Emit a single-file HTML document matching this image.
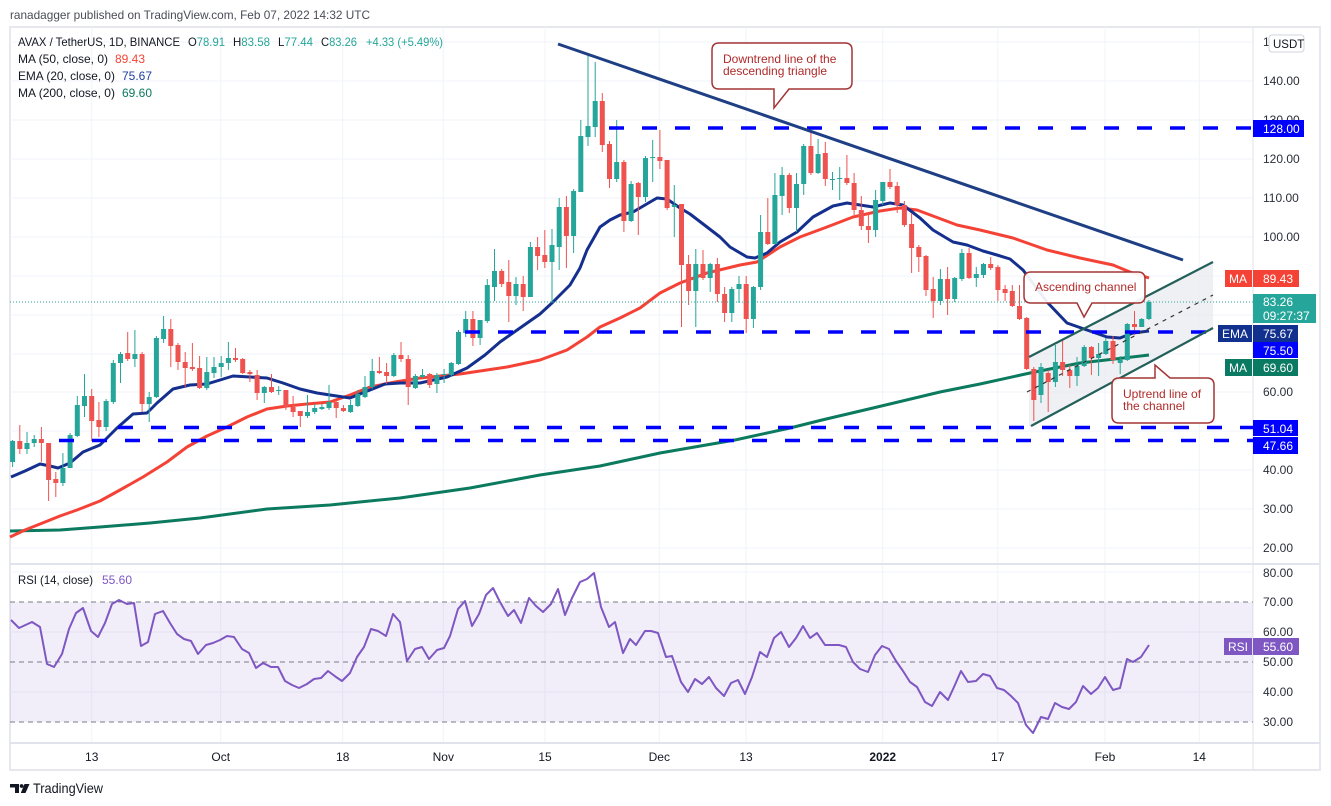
<!DOCTYPE html>
<html><head><meta charset="utf-8"><style>
html,body{margin:0;padding:0;background:#fff;}
svg{display:block;font-family:"Liberation Sans",Arial,sans-serif;}
</style></head><body>
<svg width="1331" height="806" viewBox="0 0 1331 806" xmlns="http://www.w3.org/2000/svg">
<rect width="1331" height="806" fill="#fff"/>
<!-- header -->
<text x="10" y="19" font-size="12" fill="#4a4d57" textLength="360" lengthAdjust="spacingAndGlyphs">ranadagger published on TradingView.com, Feb 07, 2022 14:32 UTC</text>
<!-- frame -->
<rect x="10" y="27" width="1310" height="743" fill="none" stroke="#e6e8ee" stroke-width="2"/>
<!-- grid -->
<g stroke="#f0f3fa" stroke-width="1">
<path d="M10 42H1253M10 81H1253M10 120H1253M10 159H1253M10 198H1253M10 237H1253M10 276H1253M10 315H1253M10 354H1253M10 392H1253M10 431H1253M10 470H1253M10 509H1253M10 548H1253"/>
<path d="M91.7 27V743M220.7 27V743M342.7 27V743M443.3 27V743M545 27V743M659.3 27V743M746 27V743M882.7 27V743M997.7 27V743M1105 27V743M1199.3 27V743"/>
<path d="M10 572H1253M10 632H1253M10 692H1253"/>
</g>
<!-- separators -->
<path d="M10 564H1320M10 743H1320" stroke="#e0e3eb" stroke-width="2"/>
<path d="M1253 27V770" stroke="#e0e3eb" stroke-width="1"/>

<!-- channel fill -->
<polygon points="1029,357 1213,262 1213,328 1029,427" fill="#e9ebf0" opacity="0.75"/>

<!-- MA200 -->
<polyline fill="none" stroke="#0b7a5f" stroke-width="3" stroke-linejoin="round" points="10,531 60,530 100,527 150,523 200,518 267,509 330,505 400,498 470,488 540,475 600,466 660,453 735,440 790,428 822,420 873,408 940,392 980,384 1030,373 1080,363 1149,355"/>
<!-- MA50 -->
<polyline fill="none" stroke="#f44336" stroke-width="3" stroke-linejoin="round" points="10,537 25,530 40,524 60,516 77,510 100,501 120,490 143,477 167,462 187,447 207,436 227,427 247,417 267,409 287,406 307,404 330,402 350,395 370,387 395,382 420,378 460,374 507,367 540,360 567,350 587,337 600,327 620,318 640,308 660,293 680,283 707,273 740,265 757,262 780,247 800,237 827,227 853,217 880,211 900,208 917,210 933,216 957,225 980,230 1013,238 1047,250 1080,258 1113,265 1130,272 1149,278"/>
<!-- EMA20 -->
<polyline fill="none" stroke="#142f8e" stroke-width="3" stroke-linejoin="round" points="11,477 25,471 40,464 50,466 58,468 70,463 83,452 100,445 117,428 133,414 147,413 157,403 173,389 190,385 207,384 220,380 233,376 250,377 267,378 283,383 300,389 317,393 330,395 350,398 370,390 385,384 400,383 420,383 447,377 467,368 485,355 500,342 520,328 540,314 553,302 570,285 580,268 587,250 600,227 610,220 620,215 633,212 645,205 657,198 667,199 680,208 690,214 707,227 720,237 730,247 747,257 755,258 767,253 780,242 797,232 813,217 833,206 847,203 860,205 873,207 890,203 903,205 920,218 933,230 953,242 967,245 983,251 997,255 1010,259 1023,270 1047,302 1067,323 1087,330 1107,337 1120,338 1133,333 1149,331"/>

<!-- candles green -->
<path fill="none" stroke="#26a69a" stroke-width="1" d="M12.6 440V467 M27 432V454 M34.2 435V447 M62.9 453V486 M70.1 433V468 M77.3 396V437 M84.5 374V417 M106.1 399V431 M113.3 360V404 M120.5 352V383 M134.9 330V367 M149.2 392V422 M156.4 336V398 M163.6 316V343 M206.8 357V390 M214 357V378 M221.2 356V377 M228.4 342V370 M264.3 386V403 M278.7 386V395 M307.5 395V418 M314.7 404V414 M321.9 404V410 M329 385V410 M350.6 400V413 M357.8 390V407 M365 376V398 M372.2 359V389 M393.8 353V377 M415.4 374V389 M422.5 369V378 M436.9 373V393 M444.1 369V383 M451.3 362V377 M458.5 330V365 M465.7 311V337 M480.1 320V345 M487.3 279V323 M494.5 249V301 M516 277V305 M530.4 242V297 M552 229V303 M559.2 198V270 M573.6 189V253 M580.8 120V192 M588 54V146 M595.2 62V137 M616.7 120V182 M631.1 181V222 M645.5 156V202 M652.7 140V182 M674.3 185V237 M695.8 249V327 M710.2 263V292 M731.8 287V322 M739 276V303 M753.4 286V328 M760.6 215V290 M774.9 173V245 M782.1 167V215 M796.5 173V232 M803.7 144V195 M818.1 139V174 M832.5 172V190 M839.7 167V200 M875.6 190V237 M882.8 182V205 M940.4 269V305 M954.7 277V302 M961.9 249V281 M976.3 267V287 M983.5 263V278 M1041 363V403 M1055.4 345V387 M1077 357V386 M1084.2 345V367 M1098.6 343V376 M1105.8 338V355 M1120.2 356V374 M1127.3 323V361 M1141.7 318V327 M1148.9 300V320"/>
<path fill="none" stroke="#26a69a" stroke-width="5" d="M12.6 441v21 M27 443v6 M34.2 439v4 M62.9 468v15 M70.1 435v33 M77.3 405v31 M84.5 396v10 M106.1 401v26 M113.3 363v39 M120.5 354v9 M134.9 354v5 M149.2 397v7 M156.4 338v59 M163.6 329v10 M206.8 372v16 M214 367v6 M221.2 363v4 M228.4 358v5 M264.3 387v6 M278.7 390v1 M307.5 412v4 M314.7 408v4 M321.9 407v2 M329 402v6 M350.6 405v7 M357.8 394v12 M365 387v10 M372.2 371v16 M393.8 355v21 M415.4 376v12 M422.5 375v2 M436.9 375v9 M444.1 374v1 M451.3 363v12 M458.5 332v32 M465.7 319v14 M480.1 320v18 M487.3 285v36 M494.5 271v16 M516 284v12 M530.4 247v50 M552 245v17 M559.2 207v40 M573.6 191v45 M580.8 136v56 M588 126v11 M595.2 101v26 M616.7 162v17 M631.1 184v37 M645.5 158v39 M652.7 157v1 M674.3 205v2 M695.8 264v27 M710.2 264v14 M731.8 289v24 M739 284v5 M753.4 287v32 M760.6 232v55 M774.9 195v49 M782.1 175v21 M796.5 184v24 M803.7 146v38 M818.1 154v19 M832.5 179v1 M839.7 178v1 M875.6 200v30 M882.8 182v19 M940.4 279v22 M954.7 278v21 M961.9 253v26 M976.3 274v4 M983.5 264v11 M1041 367v28 M1055.4 362v20 M1077 366v10 M1084.2 347v19 M1098.6 354v4 M1105.8 341v13 M1120.2 360v3 M1127.3 324v36 M1141.7 319v8 M1148.9 302v17"/>
<!-- candles red -->
<path fill="none" stroke="#ef5350" stroke-width="1" d="M19.8 425V454 M41.4 427V462 M48.6 443V501 M55.8 472V497 M91.7 389V441 M98.9 402V437 M127.7 332V361 M142.1 352V412 M170.8 319V367 M178 343V370 M185.2 352V387 M192.4 343V371 M199.6 356V389 M235.5 348V362 M242.7 358V374 M249.9 370V382 M257.1 370V400 M271.5 374V393 M285.9 390V410 M293.1 396V417 M300.3 411V427 M336.2 400V418 M343.4 405V412 M379.4 357V374 M386.6 363V384 M401 342V362 M408.2 355V405 M429.7 373V388 M472.9 311V346 M501.7 269V287 M508.8 260V322 M523.2 276V311 M537.6 237V270 M544.8 230V268 M566.4 196V268 M602.3 93V152 M609.5 141V188 M623.9 160V232 M638.3 182V235 M659.9 130V169 M667.1 160V210 M681.5 204V327 M688.6 255V305 M703 250V280 M717.4 258V302 M724.6 287V322 M746.2 276V333 M767.8 198V245 M789.3 173V213 M810.9 132V175 M825.3 142V186 M846.9 155V185 M854.1 173V215 M861.3 196V230 M868.4 213V243 M890 169V189 M897.2 182V213 M904.4 201V227 M911.6 213V273 M918.8 245V272 M926 255V296 M933.2 277V318 M947.6 267V315 M969.1 248V279 M990.7 257V270 M997.9 265V301 M1005.1 285V301 M1012.3 285V307 M1019.5 285V320 M1026.7 317V370 M1033.8 367V421 M1048.2 370V412 M1062.6 340V376 M1069.8 365V388 M1091.4 346V375 M1113 336V364 M1134.5 311V335"/>
<path fill="none" stroke="#ef5350" stroke-width="5" d="M19.8 441v8 M41.4 439v4 M48.6 443v37 M55.8 479v4 M91.7 396v25 M98.9 420v7 M127.7 353v6 M142.1 354v50 M170.8 329v17 M178 345v17 M185.2 362v6 M192.4 367v2 M199.6 368v20 M235.5 358v2 M242.7 359v14 M249.9 372v2 M257.1 375v18 M271.5 387v5 M285.9 390v17 M293.1 407v5 M300.3 411v5 M336.2 402v6 M343.4 408v3 M379.4 371v2 M386.6 372v4 M401 355v4 M408.2 359v28 M429.7 374v11 M472.9 319v19 M501.7 271v13 M508.8 282v14 M523.2 284v13 M537.6 247v9 M544.8 255v7 M566.4 207v29 M602.3 101v44 M609.5 144v35 M623.9 162v59 M638.3 183v14 M659.9 157v4 M667.1 160v48 M681.5 204v61 M688.6 264v27 M703 264v14 M717.4 264v30 M724.6 294v19 M746.2 284v35 M767.8 232v12 M789.3 175v33 M810.9 146v27 M825.3 153v26 M846.9 178v5 M854.1 183v27 M861.3 210v16 M868.4 226v4 M890 182v5 M897.2 186v19 M904.4 205v20 M911.6 224v24 M918.8 247v10 M926 256v34 M933.2 289v12 M947.6 279v20 M969.1 253v25 M990.7 264v4 M997.9 267v23 M1005.1 289v4 M1012.3 291v15 M1019.5 306v13 M1026.7 318v51 M1033.8 369v31 M1048.2 373v9 M1062.6 362v8 M1069.8 370v6 M1091.4 347v11 M1113 341v19 M1134.5 324v3"/>

<!-- last price dotted line -->
<path d="M10 302H1253" stroke="#26a69a" stroke-width="1" stroke-dasharray="1 2"/>

<!-- horizontal dashed levels -->
<g stroke="#0000ff" stroke-width="3.5" stroke-dasharray="15 18" fill="none">
<path d="M609 128H1253"/>
<path d="M465 332H1253"/>
<path d="M118 427.5H1253"/>
<path d="M59 440.5H1253"/>
</g>

<!-- channel lines -->
<g stroke="#24605a" stroke-width="2.2" fill="none">
<path d="M1029 357L1213 262"/>
<path d="M1031 426L1213 328"/>
</g>
<path d="M1027 392L1213 295" stroke="#333" stroke-width="1.2" stroke-dasharray="4 5" fill="none"/>

<!-- downtrend line -->
<path d="M558 44L1183 260" stroke="#1f3f85" stroke-width="3" fill="none"/>

<!-- callouts -->
<g fill="#ffffff" fill-opacity="0.92" stroke="#a33535" stroke-width="1.5">
<path d="M719 43H845Q852 43 852 50V82Q852 89 845 89H789L774 108L774 89H719Q712 89 712 82V50Q712 43 719 43Z"/>
<path d="M1031 272H1138Q1145 272 1145 279V296Q1145 303 1138 303H1092L1084 317L1077 303H1031Q1024 303 1024 296V279Q1024 272 1031 272Z"/>
<path d="M1119 378H1155V365L1170 378H1207Q1214 378 1214 385V416Q1214 423 1207 423H1119Q1112 423 1112 416V385Q1112 378 1119 378Z"/>
</g>
<g fill="#b02a2a" font-size="12">
<text x="723" y="63">Downtrend line of the</text>
<text x="723" y="75">descending triangle</text>
<text x="1035" y="291">Ascending channel</text>
<text x="1123" y="398">Uptrend line of</text>
<text x="1123" y="410">the channel</text>
</g>

<!-- legend -->
<g font-size="12" fill="#131722">
<text x="18" y="46" textLength="162" lengthAdjust="spacingAndGlyphs">AVAX / TetherUS, 1D, BINANCE</text>
<text x="188" y="46" textLength="37" lengthAdjust="spacingAndGlyphs">O<tspan fill="#26a69a">78.91</tspan></text>
<text x="233" y="46" textLength="37" lengthAdjust="spacingAndGlyphs">H<tspan fill="#26a69a">83.58</tspan></text>
<text x="278" y="46" textLength="35" lengthAdjust="spacingAndGlyphs">L<tspan fill="#26a69a">77.44</tspan></text>
<text x="321" y="46" textLength="36" lengthAdjust="spacingAndGlyphs">C<tspan fill="#26a69a">83.26</tspan></text>
<text x="366" y="46" fill="#26a69a" textLength="77" lengthAdjust="spacingAndGlyphs">+4.33 (+5.49%)</text>
<text x="18" y="63" textLength="90" lengthAdjust="spacingAndGlyphs">MA (50, close, 0)</text>
<text x="115" y="63" fill="#f44336" textLength="30" lengthAdjust="spacingAndGlyphs">89.43</text>
<text x="18" y="80" textLength="97" lengthAdjust="spacingAndGlyphs">EMA (20, close, 0)</text>
<text x="122" y="80" fill="#1f3fa0" textLength="30" lengthAdjust="spacingAndGlyphs">75.67</text>
<text x="18" y="97" textLength="97" lengthAdjust="spacingAndGlyphs">MA (200, close, 0)</text>
<text x="122" y="97" fill="#0b7a5f" textLength="30" lengthAdjust="spacingAndGlyphs">69.60</text>
</g>

<!-- price axis labels -->
<g font-size="12" fill="#2a2e39">
<text x="1263" y="46">150.00</text>
<text x="1263" y="85">140.00</text>
<text x="1263" y="124">130.00</text>
<text x="1263" y="163">120.00</text>
<text x="1263" y="202">110.00</text>
<text x="1263" y="241">100.00</text>
<text x="1263" y="396">60.00</text>
<text x="1263" y="474">40.00</text>
<text x="1263" y="513">30.00</text>
<text x="1263" y="552">20.00</text>
</g>
<rect x="1269" y="35" width="35" height="17" rx="3" fill="#fff" stroke="#d1d4dc" stroke-width="1"/>
<text x="1273" y="48" font-size="11.5" fill="#131722">USDT</text>

<!-- axis boxes -->
<rect x="1253" y="120" width="51" height="17" fill="#0000ff"/>
<rect x="1253" y="270" width="46" height="17" fill="#f44336"/>
<rect x="1225" y="270" width="27" height="17" fill="#f44336"/>
<rect x="1253" y="294" width="63" height="29" fill="#26a69a"/>
<rect x="1253" y="325" width="45" height="17" fill="#12318f"/>
<rect x="1218" y="325" width="34" height="17" fill="#12318f"/>
<rect x="1253" y="342" width="45" height="16" fill="#0000ff"/>
<rect x="1253" y="359" width="45" height="17" fill="#0b7a63"/>
<rect x="1225" y="359" width="27" height="17" fill="#0b7a63"/>
<rect x="1253" y="420" width="45" height="16" fill="#0000ff"/>
<rect x="1253" y="437" width="45" height="17" fill="#0000ff"/>
<g font-size="12" fill="#fff">
<text x="1263" y="133">128.00</text>
<text x="1263" y="283">89.43</text>
<text x="1229" y="283">MA</text>
<text x="1263" y="306">83.26</text>
<text x="1263" y="320">09:27:37</text>
<text x="1263" y="338">75.67</text>
<text x="1222" y="338">EMA</text>
<text x="1263" y="355">75.50</text>
<text x="1263" y="372">69.60</text>
<text x="1229" y="372">MA</text>
<text x="1263" y="433">51.04</text>
<text x="1263" y="450">47.66</text>
</g>

<!-- RSI pane -->
<rect x="10" y="602" width="1243" height="120" fill="#7e57c2" fill-opacity="0.1"/>
<g stroke="#787b86" stroke-width="1" stroke-dasharray="5 4" fill="none">
<path d="M10 602H1253M10 662H1253M10 722H1253"/>
</g>
<polyline fill="none" stroke="#7e57c2" stroke-width="2" stroke-linejoin="round" points="11,620 19,628 32,622 40,627 47,664 54,667 62,654 69,629 76,613 83,608 91,631 98,637 105,623 112,604 119,600 127,604 134,603 141,646 148,642 155,614 163,611 170,623 177,634 184,639 191,641 198,654 206,645 213,643 220,640 227,636 234,637 242,649 249,653 256,668 263,663 271,667 278,667 285,681 292,685 299,688 307,684 314,679 321,678 328,671 336,677 342,681 350,673 357,657 364,647 371,629 378,631 386,636 393,614 400,622 407,661 415,649 422,647 429,659 437,650 444,648 450,636 458,609 465,601 472,626 479,614 486,595 493,588 500,602 508,616 514,610 521,623 529,598 536,606 543,612 551,604 558,589 565,615 572,598 580,582 587,579 594,573 601,607 609,627 615,622 623,653 630,639 636,645 645,631 651,631 658,633 666,657 672,656 681,682 688,692 695,679 702,684 709,677 716,688 724,696 731,683 738,680 745,694 752,677 760,652 767,657 774,638 781,632 789,647 796,638 803,626 810,638 817,633 825,645 833,645 839,645 846,647 853,662 860,669 868,672 875,655 882,646 889,649 896,661 903,671 910,682 917,687 925,702 932,706 940,692 948,700 954,687 961,671 968,682 976,681 983,674 990,676 997,688 1004,690 1011,696 1018,703 1026,725 1033,733 1041,717 1048,719 1055,703 1062,707 1069,709 1076,702 1083,686 1091,694 1098,688 1105,677 1113,690 1120,688 1127,659 1133,662 1141,657 1149,645"/>
<text x="18" y="584" font-size="12" fill="#131722" textLength="75" lengthAdjust="spacingAndGlyphs">RSI (14, close)</text>
<text x="102" y="584" font-size="12" fill="#7e57c2" textLength="30" lengthAdjust="spacingAndGlyphs">55.60</text>
<g font-size="12" fill="#2a2e39">
<text x="1263" y="577">80.00</text>
<text x="1263" y="606">70.00</text>
<text x="1263" y="636">60.00</text>
<text x="1263" y="666">50.00</text>
<text x="1263" y="696">40.00</text>
<text x="1263" y="726">30.00</text>
</g>
<rect x="1224" y="638" width="28" height="17" fill="#7e57c2"/>
<rect x="1253" y="638" width="46" height="17" fill="#7e57c2"/>
<text x="1228" y="651" font-size="12" fill="#fff">RSI</text>
<text x="1263" y="651" font-size="12" fill="#fff">55.60</text>

<!-- time axis -->
<g font-size="12" fill="#131722" text-anchor="middle">
<text x="91.7" y="761">13</text>
<text x="220.7" y="761">Oct</text>
<text x="342.7" y="761">18</text>
<text x="443.3" y="761">Nov</text>
<text x="545" y="761">15</text>
<text x="659.3" y="761">Dec</text>
<text x="746" y="761">13</text>
<text x="882.7" y="761" font-weight="bold">2022</text>
<text x="997.7" y="761">17</text>
<text x="1105" y="761">Feb</text>
<text x="1199.3" y="761">14</text>
</g>

<!-- footer logo -->
<path d="M10 784H19V793H15V787.5H10Z" fill="#131722"/>
<circle cx="21.6" cy="786" r="1.9" fill="#131722"/>
<path d="M24.5 784H29.5L25.5 793H20.8Z" fill="#131722"/>
<text x="33" y="793" font-size="13.5" fill="#131722" textLength="70" lengthAdjust="spacingAndGlyphs">TradingView</text>
</svg>
</body></html>
